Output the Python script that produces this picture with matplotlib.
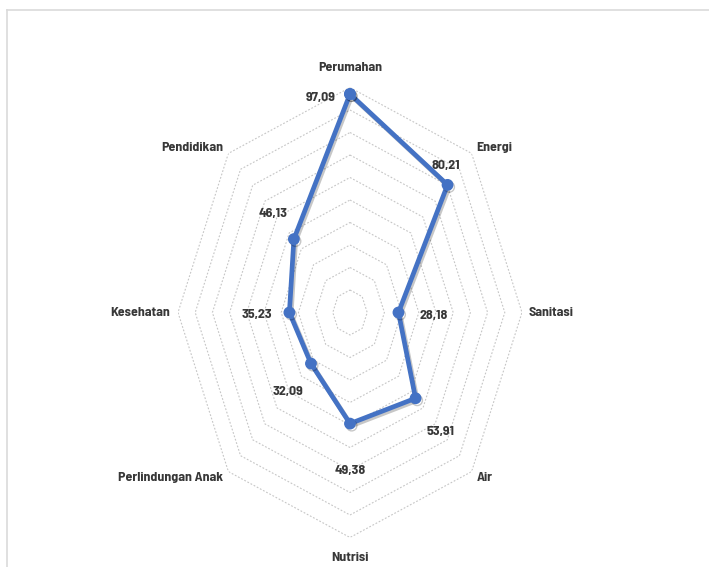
import matplotlib
matplotlib.use("Agg")
import matplotlib.pyplot as plt
import numpy as np
from matplotlib import patheffects as pe
from matplotlib.lines import Line2D

# Indicator categories, clockwise from the top
categories = ["Perumahan", "Energi", "Sanitasi", "Air", "Nutrisi",
              "Perlindungan Anak", "Kesehatan", "Pendidikan"]
values = [97.09, 80.21, 28.18, 53.91, 49.38, 32.09, 35.23, 46.13]
ring_levels = [10, 20, 30, 40, 50, 60, 70, 80, 90, 100]

plt.rcParams["font.family"] = ["Barlow Semi Condensed", "DejaVu Sans"]

LINE_COLOR = "#4472C4"
TEXT_COLOR = "#383838"
GRID_COLOR = "#c6c6c6"
FONT_SIZE = 10
FONT_WEIGHT = "bold"

fig = plt.figure(figsize=(7.09, 5.67), dpi=100)
fig.patch.set_facecolor("white")

# light frame around the chart area
fig.add_artist(Line2D([7 / 709, 1], [1 - 9.5 / 567, 1 - 9.5 / 567],
                      transform=fig.transFigure, color="#dadada", lw=1.2))
fig.add_artist(Line2D([7.5 / 709, 7.5 / 709], [0, 1 - 9.5 / 567],
                      transform=fig.transFigure, color="#dadada", lw=1.2))

ax = fig.add_axes([178 / 709, 29.5 / 567, 344 / 709, 450 / 567], projection="polar")
ax.set_aspect("auto")
ax.set_theta_zero_location("N")
ax.set_theta_direction(-1)
ax.set_ylim(0, 100)
ax.axis("off")

n = len(categories)
theta = np.arange(n) * 2 * np.pi / n
theta_c = np.r_[theta, theta[0]]

# octagonal grid rings
for lv in ring_levels:
    ax.plot(theta_c, [lv] * (n + 1), color=GRID_COLOR, lw=0.8,
            ls=(0, (1.6, 1.6)), zorder=1)

# data series
vals_c = np.r_[values, values[0]]
ax.plot(theta_c, vals_c, color=LINE_COLOR, lw=3.4, marker="o", ms=7.5,
        solid_joinstyle="round", zorder=3,
        path_effects=[pe.SimpleLineShadow(offset=(1.2, -1.5), shadow_color="black", alpha=0.22),
                      pe.Normal()])

# category labels
cat_r = [108.7, 104, 103.7, 104, 108.7, 104, 104.4, 104]
cat_ha = ["center", "left", "left", "left", "center", "right", "right", "right"]
for t, name, r, ha in zip(theta, categories, cat_r, cat_ha):
    ax.text(t, r, name, ha=ha, va="center", fontsize=FONT_SIZE, fontweight=FONT_WEIGHT,
            color=TEXT_COLOR, clip_on=False)

# value labels
label_offsets = [(-29, -3), (-2, 19), (35, -3), (25, -33),
                 (0, -47), (-23, -28), (-33, -2), (-21, 26)]
for t, v, off in zip(theta, values, label_offsets):
    ax.annotate(f"{v:.2f}".replace(".", ","), xy=(t, v), xytext=off,
                textcoords="offset pixels", ha="center", va="center",
                fontsize=FONT_SIZE, fontweight=FONT_WEIGHT, color=TEXT_COLOR,
                annotation_clip=False)

fig.savefig("out.png", dpi=100)
